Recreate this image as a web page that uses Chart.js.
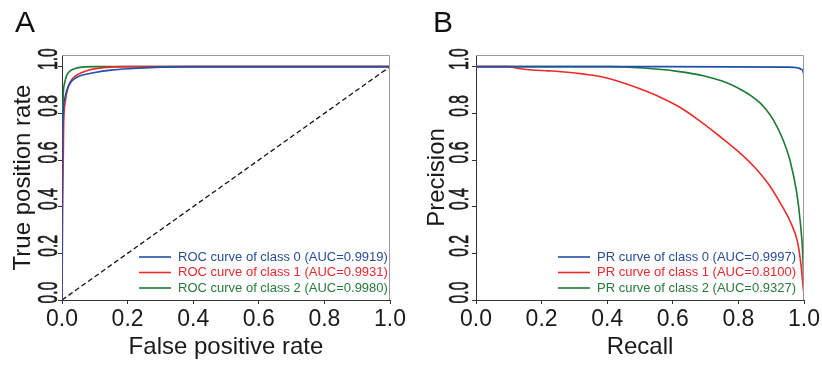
<!DOCTYPE html>
<html>
<head>
<meta charset="utf-8">
<script src="https://cdn.jsdelivr.net/npm/chart.js@4"></script>
<style>
  body { margin: 0; background: #fff; }
  #wrap { position: relative; width: 822px; height: 370px; }
  canvas { position: absolute; top: 0; }
</style>
</head>
<body>
<div id="wrap">
  <canvas id="rocChart" width="411" height="370" style="left:0"></canvas>
  <canvas id="prChart" width="411" height="370" style="left:411px"></canvas>
</div>
<script>
// ROC curves (false positive rate / true positive rate)
const rocFpr0 = [0, 0.001, 0.003, 0.008, 0.015, 0.025, 0.04, 0.06, 0.1, 0.15, 0.2, 0.3, 0.4, 1];
const rocTpr0 = [0, 0.5, 0.78, 0.86, 0.9, 0.93, 0.95, 0.963, 0.975, 0.985, 0.991, 0.998, 1, 1];
const rocFpr1 = [0, 0.002, 0.005, 0.01, 0.018, 0.03, 0.05, 0.08, 0.12, 0.2, 1];
const rocTpr1 = [0, 0.4, 0.75, 0.85, 0.91, 0.945, 0.968, 0.985, 0.995, 1, 1];
const rocFpr2 = [0, 0.001, 0.003, 0.008, 0.015, 0.025, 0.04, 0.06, 0.1, 1];
const rocTpr2 = [0, 0.6, 0.85, 0.93, 0.965, 0.982, 0.992, 0.998, 1, 1];
const rocLabels = ["ROC curve of class 0 (AUC=0.9919)", "ROC curve of class 1 (AUC=0.9931)", "ROC curve of class 2 (AUC=0.9980)"];

// PR curves (recall / precision)
const prRec0 = [0, 0.5, 0.95, 0.98, 0.99, 0.997, 1];
const prPre0 = [1, 1, 0.998, 0.995, 0.99, 0.98, 0.96];
const prRec1 = [0, 0.1, 0.13, 0.17, 0.22, 0.28, 0.33, 0.37, 0.41, 0.45, 0.5, 0.56, 0.62, 0.68, 0.74, 0.8, 0.85, 0.89, 0.93, 0.96, 0.98, 0.99, 0.997, 1];
const prPre1 = [1, 1, 0.992, 0.986, 0.982, 0.976, 0.968, 0.96, 0.947, 0.93, 0.905, 0.87, 0.827, 0.77, 0.705, 0.636, 0.568, 0.5, 0.41, 0.33, 0.25, 0.16, 0.06, 0.02];
const prRec2 = [0, 0.4, 0.51, 0.614, 0.693, 0.766, 0.815, 0.84, 0.866, 0.885, 0.906, 0.936, 0.957, 0.978, 0.988, 0.996, 1];
const prPre2 = [1, 1, 0.994, 0.98, 0.961, 0.93, 0.896, 0.874, 0.845, 0.815, 0.773, 0.687, 0.6, 0.458, 0.343, 0.2, 0.04];
const prLabels = ["PR curve of class 0 (AUC=0.9997)", "PR curve of class 1 (AUC=0.8100)", "PR curve of class 2 (AUC=0.9327)"];

const xTicks = [0, 0.2, 0.4, 0.6, 0.8, 1.0];
const yTicks = [0, 0.2, 0.4, 0.6, 0.8, 1.0];

const lineColors = ["#1f4fa6", "#ee2a2a", "#1b7a33"];
const textColors = ["#2a4d9b", "#e82a2e", "#267a3a"];
const FONT = "'Liberation Sans', Arial, sans-serif";

function pts(xs, ys) {
  return xs.map((x, i) => ({ x: x, y: ys[i] }));
}

function curve(label, xs, ys, i) {
  return {
    label: label,
    data: pts(xs, ys),
    borderColor: lineColors[i],
    borderWidth: 1.6,
    pointRadius: 0,
    showLine: true,
    cubicInterpolationMode: "monotone",
    legendColor: textColors[i]
  };
}

// gray frame, rotated y tick labels, inner legend, panel letter
const decor = {
  id: "decor",
  afterDraw(chart, args, o) {
    const ctx = chart.ctx;
    const a = chart.chartArea;
    ctx.save();
    ctx.strokeStyle = "#9a9a9a";
    ctx.lineWidth = 1;
    ctx.beginPath();
    ctx.moveTo(a.left, a.top + 0.5);
    ctx.lineTo(a.right - 0.5, a.top + 0.5);
    ctx.lineTo(a.right - 0.5, a.bottom);
    ctx.stroke();

    const ys = chart.scales.y;
    ctx.fillStyle = "#1a1a1a";
    ctx.strokeStyle = "#1a1a1a";
    ctx.lineWidth = 0.7;
    ctx.font = "28px " + FONT;
    ctx.textAlign = "center";
    ctx.textBaseline = "alphabetic";
    yTicks.forEach(v => {
      const py = ys.getPixelForValue(v);
      ctx.save();
      ctx.translate(57, py - 7.5);
      ctx.rotate(-Math.PI / 2);
      ctx.scale(0.56, 1);
      ctx.fillText(v.toFixed(1), 0, 0);
      ctx.strokeText(v.toFixed(1), 0, 0);
      ctx.restore();
    });

    ctx.font = "13px " + FONT;
    ctx.textAlign = "left";
    ctx.textBaseline = "middle";
    let row = 0;
    chart.data.datasets.forEach(ds => {
      if (!ds.label) return;
      const y = a.bottom - 43 + row * 15.5;
      const x0 = a.left + o.legendLeft;
      ctx.strokeStyle = ds.borderColor;
      ctx.lineWidth = 1.6;
      ctx.beginPath();
      ctx.moveTo(x0, y);
      ctx.lineTo(x0 + 32, y);
      ctx.stroke();
      ctx.fillStyle = ds.legendColor;
      ctx.fillText(ds.label, x0 + 39, y);
      row++;
    });

    ctx.fillStyle = "#111";
    ctx.font = "30px " + FONT;
    ctx.textBaseline = "alphabetic";
    ctx.fillText(o.letter, o.letterX, 32);
    ctx.restore();
  }
};

function makeChart(id, datasets, xTitle, yTitle, axisW, rightPad, yTitlePad, letter, letterX, legendLeft) {
  return new Chart(document.getElementById(id), {
    type: "scatter",
    data: { datasets: datasets },
    options: {
      responsive: false,
      animation: false,
      layout: { padding: { left: 0, right: rightPad, top: 55, bottom: 0 } },
      plugins: {
        legend: { display: false },
        tooltip: { enabled: false },
        decor: { letter: letter, letterX: letterX, legendLeft: legendLeft }
      },
      scales: {
        x: {
          type: "linear",
          min: 0,
          max: 1,
          afterBuildTicks: s => { s.ticks = xTicks.map(v => ({ value: v })); },
          afterFit: s => { s.height = 70; },
          ticks: {
            callback: v => v.toFixed(1),
            font: { size: 23 },
            color: "#1a1a1a",
            padding: 2,
            maxRotation: 0
          },
          grid: { drawOnChartArea: false, drawTicks: true, tickLength: 4, color: "#333" },
          border: { color: "#333", width: 1 },
          title: { display: true, text: xTitle, font: { size: 24 }, color: "#1a1a1a", padding: { top: 0, bottom: 8 } }
        },
        y: {
          type: "linear",
          min: 0,
          max: 1.05,
          afterBuildTicks: s => { s.ticks = yTicks.map(v => ({ value: v })); },
          afterFit: s => { s.width = axisW; },
          ticks: { callback: v => v.toFixed(1), color: "rgba(0,0,0,0)", font: { size: 14 } },
          grid: { drawOnChartArea: false, drawTicks: true, tickLength: 4, color: "#333" },
          border: { color: "#333", width: 1 },
          title: { display: true, text: yTitle, font: { size: 24 }, color: "#1a1a1a", padding: { top: yTitlePad, bottom: 0 } }
        }
      }
    },
    plugins: [decor]
  });
}

const rocSets = [
  curve(rocLabels[0], rocFpr0, rocTpr0, 0),
  curve(rocLabels[1], rocFpr1, rocTpr1, 1),
  curve(rocLabels[2], rocFpr2, rocTpr2, 2),
  {
    label: "",
    data: pts([0, 1], [0, 1]),
    borderColor: "#111",
    borderWidth: 1.3,
    borderDash: [5, 3],
    pointRadius: 0,
    showLine: true
  }
];

const prSets = [
  curve(prLabels[0], prRec0, prPre0, 0),
  curve(prLabels[1], prRec1, prPre1, 1),
  curve(prLabels[2], prRec2, prPre2, 2)
];

makeChart("rocChart", rocSets, "False positive rate", "True position rate", 62, 21, 9, "A", 15, 77);
makeChart("prChart", prSets, "Recall", "Precision", 65, 17, 12, "B", 22, 82);
</script>
</body>
</html>
